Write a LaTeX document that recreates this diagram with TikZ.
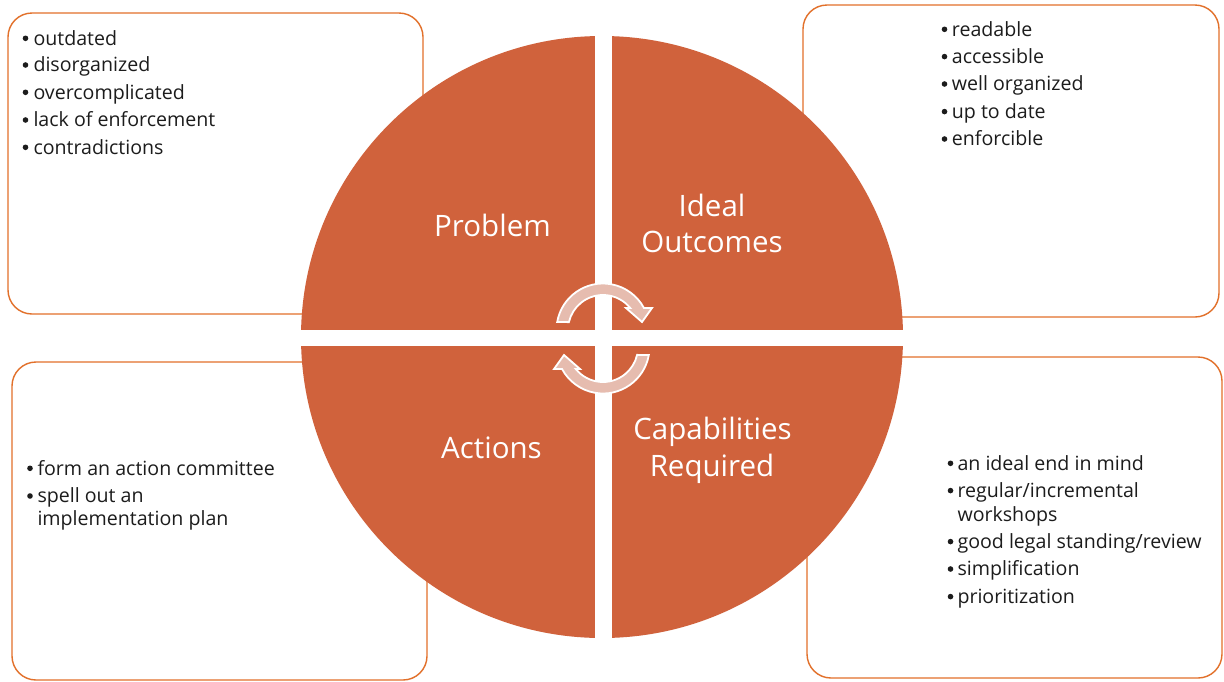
\documentclass[tikz,border=0pt]{standalone}
\usepackage{fontspec}
\newfontfamily\bodyfont{Open Sans}
\definecolor{wedge}{RGB}{208,98,60}
\definecolor{frame}{RGB}{226,112,42}
\definecolor{cyclefill}{RGB}{230,188,175}
\definecolor{ink}{RGB}{28,28,28}
\tikzset{
  panel/.style={draw=frame, line width=1.4pt, rounded corners=24pt, fill=white},
  item/.style={anchor=base west, inner sep=0pt, text=ink, font=\bodyfont\fontsize{19.6}{23}\selectfont},
  dot/.style={circle, fill=ink, inner sep=0pt, minimum size=5.6pt, yshift=6.7pt},
  title/.style={anchor=base, inner sep=0pt, text=white, font=\bodyfont\fontsize{29.5}{33}\selectfont},
  cyclearrow/.style={fill=cyclefill, draw=white, line width=1.8pt, line join=miter},
}
\begin{document}
\begin{tikzpicture}[x=1pt,y=-1pt]
\useasboundingbox (0,0) rectangle (1224,681);
\fill[white] (0,0) rectangle (1224,681);

% text panels (behind the disc)
\draw[panel] (8,13) rectangle (423,314);
\draw[panel] (803,5) rectangle (1219,317);
\draw[panel] (12,362) rectangle (427,680);
\draw[panel] (807,357) rectangle (1222,678);

% disc split into four quadrants
\fill[wedge] (602,337) circle[radius=301];
\fill[white] (594.5,25) rectangle (611.5,650);
\fill[white] (290,330) rectangle (915,346);

% cycle arrows
\path[cyclearrow]
  ([shift={(603,330)}]190:46.5) arc[start angle=190, end angle=331.8, radius=46.5]
  -- (652,308) -- (642,322) -- (626,308)
  -- ([shift={(603,330)}]321.1:35) arc[start angle=321.1, end angle=193, radius=35] -- cycle;
\begin{scope}[rotate around={180:(603,338.5)}]
\path[cyclearrow]
  ([shift={(603,330)}]190:46.5) arc[start angle=190, end angle=331.8, radius=46.5]
  -- (652,308) -- (642,322) -- (626,308)
  -- ([shift={(603,330)}]321.1:35) arc[start angle=321.1, end angle=193, radius=35] -- cycle;
\end{scope}

% quadrant titles
\node[title] (problem) at (492.5,236) {Problem};
\node[title] (ideal) at (712,216.7) {Ideal};
\node[title] (outcomes) at (712,252.7) {Outcomes};
\node[title] (actions) at (491.5,458.3) {Actions};
\node[title] (capab) at (712.5,439) {Capabilities};
\node[title] (required) at (712,476) {Required};

% problem list
\foreach \t/\y [count=\i] in {outdated/45, disorganized/71.7, overcomplicated/99, lack of enforcement/126.7, contradictions/154}{
  \node[dot] (pb\i) at (25.5,\y) {};
  \node[item] (pt\i) at (33.3,\y) {\t};
}
% ideal outcomes list
\foreach \t/\y [count=\i] in {readable/36, accessible/63.3, well organized/90.7, up to date/118.3, enforcible/145.7}{
  \node[dot] (ob\i) at (944.5,\y) {};
  \node[item] (ot\i) at (951.7,\y) {\t};
}
% actions list
\node[dot] (ab1) at (30,475) {};
\node[item] (at1) at (37.3,475) {form an action committee};
\node[dot] (ab2) at (30,502.7) {};
\node[item] (at2) at (37.3,502.7) {spell out an};
\node[item] (at3) at (37.3,525) {implementation plan};
% capabilities list
\node[dot] (cb1) at (950.5,470) {};
\node[item] (ct1) at (957.3,470) {an ideal end in mind};
\node[dot] (cb2) at (950.5,497.3) {};
\node[item] (ct2) at (957.3,497.3) {regular/incremental};
\node[item] (ct3) at (957.3,521) {workshops};
\node[dot] (cb4) at (950.5,548.3) {};
\node[item] (ct4) at (957.3,548.3) {good legal standing/review};
\node[dot] (cb5) at (950.5,575.7) {};
\node[item] (ct5) at (957.3,575.7) {simplification};
\node[dot] (cb6) at (950.5,603.3) {};
\node[item] (ct6) at (957.3,603.3) {prioritization};
\end{tikzpicture}
\end{document}
